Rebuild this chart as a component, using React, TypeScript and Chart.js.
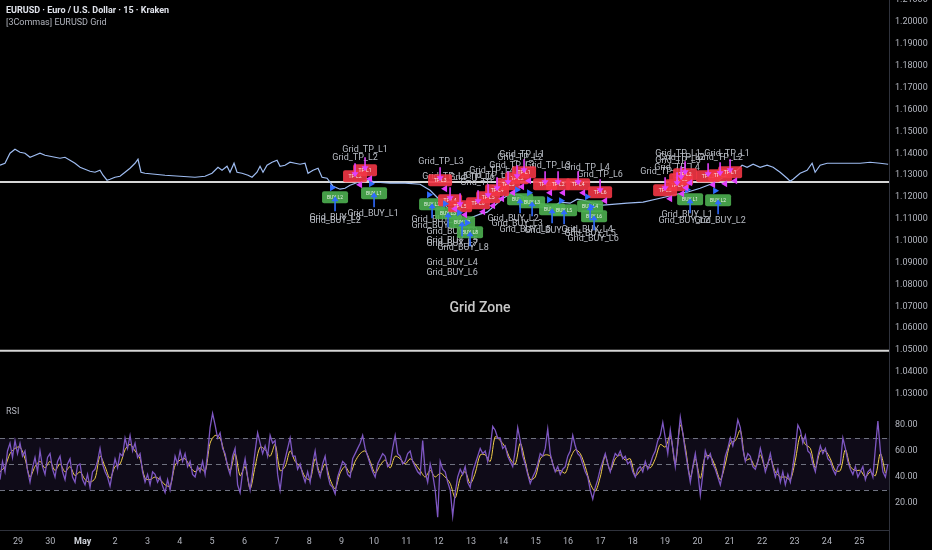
import React, { useEffect, useRef } from "react";
import { Chart, registerables } from "chart.js";

Chart.register(...registerables);

const FONT = "Roboto, 'Liberation Sans', sans-serif";

// ---------- shared time axis (days since Apr 29 00:00) ----------
const DAY_LABELS = ["29", "30", "May", "2", "3", "4", "5", "6", "7", "8", "9", "10", "11", "12", "13", "14", "15", "16", "17", "18", "19", "20", "21", "22", "23", "24", "25"];
const X_MIN = -0.556;
const X_MAX = 26.92;

// ---------- price pane ----------
const PRICE_TICKS = [1.03, 1.04, 1.05, 1.06, 1.07, 1.08, 1.09, 1.1, 1.11, 1.12, 1.13, 1.14, 1.15, 1.16, 1.17, 1.18, 1.19, 1.2, 1.21];
const PRICE_MIN = 1.02716;
const PRICE_MAX = 1.21009;

const PRICE_DAYS = [
  -0.556, -0.402, -0.247, -0.093, 0.062, 0.216, 0.371, 0.526, 0.68, 0.835,
  0.989, 1.144, 1.298, 1.453, 1.607, 1.762, 1.917, 2.071, 2.226, 2.38,
  2.535, 2.628, 2.751, 2.844, 2.998, 3.153, 3.308, 3.462, 3.617, 3.709,
  3.802, 3.926, 4.235, 4.544, 5.008, 5.471, 5.781, 5.997, 6.182, 6.306,
  6.461, 6.553, 6.677, 6.77, 6.924, 7.11, 7.233, 7.388, 7.481, 7.573,
  7.697, 7.852, 8.006, 8.099, 8.253, 8.408, 8.563, 8.717, 8.872, 8.964,
  9.119, 9.274, 9.397, 9.552, 9.737, 9.954, 10.108, 10.263, 10.51, 10.788,
  11.097, 11.499, 11.963, 12.427, 12.736, 13.045, 13.292, 13.509, 13.663, 13.849,
  14.034, 14.281, 14.498, 14.745, 14.992, 15.209, 15.518, 15.765, 16.043, 16.291,
  16.538, 16.754, 17.063, 17.28, 17.465, 17.774, 18.083, 18.454, 18.825, 19.32,
  19.845, 20.247, 20.68, 21.082, 21.484, 21.917, 22.226, 22.38, 22.535, 22.72,
  22.937, 23.153, 23.338, 23.555, 23.771, 23.864, 23.957, 24.173, 24.389, 24.544,
  24.637, 24.791, 25.008, 25.502, 26.028, 26.337, 26.646, 26.893,
];
const PRICE_VALUES = [
  1.13452, 1.13543, 1.14, 1.14183, 1.14046, 1.14, 1.13817, 1.13909, 1.14, 1.13909,
  1.13863, 1.13817, 1.13772, 1.13817, 1.1368, 1.13543, 1.1336, 1.13269, 1.13178, 1.13132,
  1.13223, 1.12995, 1.12767, 1.12812, 1.12904, 1.12949, 1.13132, 1.13315, 1.13543, 1.13726,
  1.13132, 1.13086, 1.13041, 1.12995, 1.12949, 1.12904, 1.12949, 1.13086, 1.1336, 1.13223,
  1.13406, 1.13132, 1.13543, 1.13132, 1.13086, 1.12995, 1.12904, 1.13132, 1.13406, 1.13132,
  1.13452, 1.13589, 1.1368, 1.13406, 1.13452, 1.13589, 1.13543, 1.13498, 1.13543, 1.13086,
  1.13223, 1.13315, 1.12904, 1.12858, 1.12493, 1.12356, 1.12401, 1.12538, 1.12675, 1.12767,
  1.12675, 1.1263, 1.1263, 1.12584, 1.1231, 1.11853, 1.11488, 1.11122, 1.10848, 1.1094,
  1.11077, 1.11214, 1.11305, 1.11625, 1.11944, 1.12127, 1.12082, 1.11899, 1.11762, 1.11625,
  1.11533, 1.11762, 1.11716, 1.11899, 1.11853, 1.11716, 1.11625, 1.1167, 1.11716, 1.11762,
  1.11944, 1.12082, 1.12219, 1.12401, 1.1263, 1.12995, 1.13223, 1.13452, 1.1336, 1.13498,
  1.1336, 1.13452, 1.1336, 1.13132, 1.12858, 1.12721, 1.12812, 1.13086, 1.13223, 1.13543,
  1.13132, 1.13452, 1.13543, 1.13543, 1.13543, 1.13589, 1.13543, 1.13498,
];

const GRID_UPPER = 1.1268;
const GRID_LOWER = 1.0497;
const GRID_ZONE_TEXT = "Grid Zone";
const GRID_ZONE_DAY = 14.28;
const GRID_ZONE_PRICE = 1.0692;

const TITLE_TEXT = "EURUSD · Euro / U.S. Dollar · 15 · Kraken";
const STUDY_TEXT = "[3Commas] EURUSD Grid";

// take-profit label boxes: [day, price, level]
const TP_BOXES = [
  [10.417, 1.12949, 2], [10.726, 1.13223, 1], [13.045, 1.12767, 3], [13.354, 1.11853, 4],
  [13.663, 1.11579, 5], [14.219, 1.11716, 6], [14.529, 1.1199, 5], [14.807, 1.1231, 4],
  [15.147, 1.12584, 3], [15.425, 1.12858, 2], [15.641, 1.13132, 1], [16.291, 1.12584, 3],
  [16.692, 1.12584, 2], [17.311, 1.12584, 4], [17.991, 1.12219, 6], [20.0, 1.1231, 5],
  [20.371, 1.12538, 4], [20.495, 1.12812, 3], [20.618, 1.13041, 2], [21.329, 1.12949, 3],
  [21.7, 1.12995, 2], [22.009, 1.13132, 1],
];
// buy label boxes: [day, price, level]
const BUY_BOXES = [
  [9.799, 1.1199, 2], [11.005, 1.12173, 1], [12.798, 1.1167, 2], [13.292, 1.11259, 3],
  [13.725, 1.10848, 7], [13.972, 1.10391, 8], [15.518, 1.11899, 2], [15.889, 1.11762, 3],
  [16.507, 1.11442, 4], [16.878, 1.11396, 5], [17.682, 1.11579, 4], [17.805, 1.11122, 6],
  [20.773, 1.11899, 1], [21.638, 1.11853, 2],
];
// text labels: [day, price, text]
const TP_LABELS = [
  [10.726, 1.14183, "Grid_TP_L1"], [10.417, 1.13817, "Grid_TP_L2"], [13.076, 1.13589, "Grid_TP_L3"],
  [13.199, 1.12904, "Grid_TP_L5"], [14.034, 1.12858, "Grid_TP_L6"], [14.652, 1.13223, "Grid_TP_L4"],
  [14.529, 1.12949, "Grid_TP_L5"], [14.374, 1.1263, "Grid_TP_L6"], [15.518, 1.13817, "Grid_TP_L2"],
  [15.58, 1.13954, "Grid_TP_L1"], [15.27, 1.13406, "Grid_TP_L3"], [16.383, 1.13406, "Grid_TP_L3"],
  [17.589, 1.1336, "Grid_TP_L4"], [17.991, 1.12995, "Grid_TP_L6"], [19.938, 1.13132, "Grid_TP_L5"],
  [20.371, 1.1336, "Grid_TP_L4"], [20.402, 1.13635, "Grid_TP_L3"], [20.526, 1.13817, "Grid_TP_L2"],
  [20.402, 1.14, "Grid_TP_L1"], [21.7, 1.13817, "Grid_TP_L2"], [21.917, 1.14, "Grid_TP_L1"],
];
const BUY_LABELS = [
  [9.799, 1.11031, "Grid_BUY_L3"], [9.799, 1.10894, "Grid_BUY_L2"], [10.974, 1.11214, "Grid_BUY_L1"],
  [12.952, 1.1094, "Grid_BUY_L2"], [12.952, 1.10665, "Grid_BUY_L7"], [13.416, 1.10391, "Grid_BUY_L3"],
  [13.416, 1.0998, "Grid_BUY_L5"], [13.416, 1.09843, "Grid_BUY_L7"], [13.756, 1.0966, "Grid_BUY_L8"],
  [13.416, 1.08975, "Grid_BUY_L4"], [13.416, 1.08518, "Grid_BUY_L6"], [15.301, 1.10985, "Grid_BUY_L2"],
  [15.425, 1.10757, "Grid_BUY_L3"], [15.672, 1.10483, "Grid_BUY_L5"], [16.445, 1.10437, "Grid_BUY_L4"],
  [17.589, 1.10483, "Grid_BUY_L4"], [17.682, 1.103, "Grid_BUY_L5"], [17.774, 1.10072, "Grid_BUY_L6"],
  [20.68, 1.11168, "Grid_BUY_L1"], [20.587, 1.10894, "Grid_BUY_L2"], [21.7, 1.10894, "Grid_BUY_L2"],
];

// ---------- RSI pane ----------
const RSI_TICKS = [20, 40, 60, 80];
const RSI_LEVELS = [70, 50, 30];
const RSI_BAND = [30, 70];
const RSI_MIN = -0.77;
const RSI_MAX = 99.23;
const RSI_START_DAY = -0.556;
const RSI_STEP_DAYS = 0.0773;
const RSI_MA_STEP_DAYS = 0.1546;

const RSI_VALUES = [
  38, 52, 44, 60, 66, 55, 68, 58, 66, 56, 60, 45, 36, 47, 55, 44, 60, 48, 42, 55,
  58, 46, 40, 52, 56, 44, 38, 50, 54, 40, 36, 49, 50, 38, 34, 42, 32, 44, 46, 52,
  62, 50, 44, 40, 33, 44, 54, 47, 58, 56, 70, 62, 72, 60, 66, 55, 58, 44, 36, 42,
  34, 44, 42, 36, 40, 33, 28, 38, 30, 42, 56, 50, 60, 52, 58, 48, 52, 42, 40, 48,
  44, 52, 42, 58, 78, 89, 80, 70, 74, 62, 58, 48, 42, 56, 62, 34, 28, 44, 54, 40,
  30, 44, 60, 74, 66, 58, 64, 56, 72, 66, 68, 42, 30, 46, 54, 62, 70, 56, 56, 46,
  50, 42, 36, 44, 36, 50, 60, 46, 40, 50, 56, 42, 34, 32, 27, 40, 46, 52, 50, 42,
  40, 54, 58, 62, 66, 72, 62, 56, 50, 44, 40, 50, 54, 58, 56, 48, 50, 62, 72, 58,
  56, 50, 52, 58, 60, 52, 48, 44, 42, 68, 44, 36, 50, 42, 30, 9, 52, 46, 44, 36,
  30, 10, 28, 40, 46, 42, 48, 36, 32, 44, 50, 56, 62, 58, 60, 52, 62, 79, 76, 70,
  70, 62, 64, 56, 52, 48, 60, 78, 68, 56, 50, 42, 35, 40, 44, 50, 58, 56, 62, 77,
  58, 50, 44, 48, 42, 46, 48, 56, 60, 72, 64, 58, 56, 50, 44, 40, 30, 23, 32, 38,
  46, 52, 58, 50, 44, 52, 58, 56, 60, 54, 56, 50, 52, 44, 40, 46, 48, 44, 52, 46,
  50, 56, 60, 68, 72, 82, 70, 58, 76, 62, 48, 66, 86, 74, 60, 48, 36, 48, 58, 44,
  26, 42, 60, 54, 58, 50, 46, 40, 34, 44, 56, 62, 70, 64, 72, 84, 78, 62, 52, 58,
  56, 48, 46, 52, 62, 54, 44, 50, 58, 48, 40, 46, 36, 44, 34, 42, 36, 48, 62, 80,
  76, 66, 72, 60, 58, 50, 44, 56, 64, 58, 62, 54, 52, 46, 42, 48, 50, 70, 62, 52,
  46, 42, 48, 40, 44, 48, 38, 44, 46, 40, 62, 83, 60, 44, 40, 50,
];
const RSI_MA_VALUES = [
  44, 48, 58, 62, 63, 54, 40, 48, 52, 47,
  52, 45, 50, 44, 48, 41, 44, 38, 36, 39,
  56, 48, 39, 48, 50, 61, 65, 60, 54, 39,
  38, 40, 38, 34, 33, 49, 53, 54, 48, 44,
  47, 44, 66, 72, 70, 56, 45, 58, 41, 48,
  31, 48, 63, 61, 56, 65, 45, 48, 60, 52,
  48, 40, 38, 54, 43, 50, 38, 31, 43, 48,
  43, 52, 58, 60, 52, 43, 49, 53, 47, 56,
  54, 50, 54, 50, 45, 40, 45, 40, 43, 40,
  35, 24, 39, 44, 35, 43, 57, 57, 52, 71,
  68, 63, 54, 50, 66, 52, 38, 40, 54, 57,
  56, 45, 45, 43, 54, 61, 58, 48, 35, 29,
  40, 56, 45, 54, 57, 53, 54, 41, 45, 49,
  47, 54, 65, 63, 72, 50, 80, 63, 40, 54,
  39, 56, 56, 48, 38, 50, 66, 68, 76, 53,
  54, 48, 57, 47, 54, 44, 40, 40, 38, 53,
  72, 65, 62, 47, 60, 60, 54, 45, 45, 61,
  48, 45, 45, 40, 44, 41, 58, 43,
];

// ---------- colours ----------
const C_BG = "#000000";
const C_AXIS_TEXT = "#b2b5be";
const C_BORDER = "#2f323c";
const C_PRICE = "#9fbdf2";
const C_GRIDLINE = "#d6d6d6";
const C_TP_BOX = "rgba(242,54,69,0.9)";
const C_BUY_BOX = "rgba(76,175,80,0.9)";
const C_TP_ARROW = "#e040fb";
const C_BUY_ARROW = "#2f6bff";
const C_LABEL = "#b8bcc4";
const C_RSI = "#7e57c2";
const C_RSI_MA = "#f2cf4a";

function rrect(ctx: CanvasRenderingContext2D, x: number, y: number, w: number, h: number, r: number) {
  ctx.beginPath();
  ctx.moveTo(x + r, y);
  ctx.lineTo(x + w - r, y);
  ctx.quadraticCurveTo(x + w, y, x + w, y + r);
  ctx.lineTo(x + w, y + h - r);
  ctx.quadraticCurveTo(x + w, y + h, x + w - r, y + h);
  ctx.lineTo(x + r, y + h);
  ctx.quadraticCurveTo(x, y + h, x, y + h - r);
  ctx.lineTo(x, y + r);
  ctx.quadraticCurveTo(x, y, x + r, y);
  ctx.closePath();
}

function drawBox(ctx: CanvasRenderingContext2D, cx: number, cy: number, w: number, h: number, fill: string, text: string) {
  rrect(ctx, cx - w / 2, cy - h / 2, w, h, 2);
  ctx.fillStyle = fill;
  ctx.fill();
  ctx.fillStyle = "rgba(255,255,255,0.85)";
  ctx.font = `5px ${FONT}`;
  ctx.textAlign = "center";
  ctx.textBaseline = "middle";
  ctx.fillText(text, cx, cy + 0.5);
}

function drawArrow(ctx: CanvasRenderingContext2D, cx: number, from: number, tip: number, color: string) {
  const dir = tip > from ? 1 : -1;
  ctx.strokeStyle = color;
  ctx.fillStyle = color;
  ctx.lineWidth = 1.6;
  ctx.beginPath();
  ctx.moveTo(cx, from);
  ctx.lineTo(cx, tip - dir * 4);
  ctx.stroke();
  ctx.beginPath();
  ctx.moveTo(cx - 3.5, tip - dir * 5);
  ctx.lineTo(cx + 3.5, tip - dir * 5);
  ctx.lineTo(cx, tip);
  ctx.closePath();
  ctx.fill();
}

const markersPlugin = {
  id: "gridMarkers",
  afterDatasetsDraw(chart: any) {
    const { ctx } = chart;
    const xs = chart.scales.x;
    const ys = chart.scales.y;
    ctx.save();

    // Grid Zone caption
    ctx.fillStyle = "#c9c9c9";
    ctx.font = `500 14px ${FONT}`;
    ctx.textAlign = "center";
    ctx.textBaseline = "middle";
    ctx.fillText(GRID_ZONE_TEXT, xs.getPixelForValue(GRID_ZONE_DAY), ys.getPixelForValue(GRID_ZONE_PRICE));

    // text labels
    ctx.fillStyle = C_LABEL;
    ctx.font = `9px ${FONT}`;
    [...TP_LABELS, ...BUY_LABELS].forEach(([d, p, t]: any) => {
      ctx.fillText(t, xs.getPixelForValue(d), ys.getPixelForValue(p));
    });

    // buy boxes
    BUY_BOXES.forEach(([d, p, l]: any) => {
      const cx = xs.getPixelForValue(d);
      const cy = ys.getPixelForValue(p);
      drawBox(ctx, cx, cy, 26, 12, C_BUY_BOX, "BUY L" + l);
    });
    // tp boxes
    TP_BOXES.forEach(([d, p, l]: any) => {
      const cx = xs.getPixelForValue(d);
      const cy = ys.getPixelForValue(p);
      drawBox(ctx, cx, cy, 24, 12, C_TP_BOX, "TP L" + l);
    });
    // arrows and triangles
    BUY_BOXES.forEach(([d, p]: any) => {
      const cx = xs.getPixelForValue(d);
      const cy = ys.getPixelForValue(p);
      drawArrow(ctx, cx, cy + 14, cy - 1, C_BUY_ARROW);
      ctx.fillStyle = C_BUY_ARROW;
      ctx.beginPath();
      ctx.moveTo(cx - 5, cy - 13);
      ctx.lineTo(cx - 5, cy - 6);
      ctx.lineTo(cx + 1, cy - 9.5);
      ctx.closePath();
      ctx.fill();
    });
    TP_BOXES.forEach(([d, p]: any) => {
      const cx = xs.getPixelForValue(d);
      const cy = ys.getPixelForValue(p);
      drawArrow(ctx, cx, cy - 13, cy + 1, C_TP_ARROW);
      ctx.fillStyle = C_TP_ARROW;
      ctx.beginPath();
      ctx.moveTo(cx + 7, cy + 5);
      ctx.lineTo(cx + 7, cy + 12);
      ctx.lineTo(cx + 1, cy + 8.5);
      ctx.closePath();
      ctx.fill();
    });
    ctx.restore();
  },
  afterDraw(chart: any) {
    const { ctx } = chart;
    ctx.save();
    ctx.textAlign = "left";
    ctx.textBaseline = "middle";
    ctx.fillStyle = "#e0e3eb";
    ctx.font = `bold 9px ${FONT}`;
    ctx.fillText(TITLE_TEXT, 6, 11);
    ctx.fillStyle = C_AXIS_TEXT;
    ctx.font = `9px ${FONT}`;
    ctx.fillText(STUDY_TEXT, 6, 23);
    ctx.restore();
  },
};

const rsiPlugin = {
  id: "rsiBands",
  beforeDatasetsDraw(chart: any) {
    const { ctx, chartArea } = chart;
    const ys = chart.scales.y;
    ctx.save();
    const yTop = ys.getPixelForValue(RSI_BAND[1]);
    const yBot = ys.getPixelForValue(RSI_BAND[0]);
    ctx.fillStyle = "rgba(126,87,194,0.12)";
    ctx.fillRect(chartArea.left, yTop, chartArea.right - chartArea.left, yBot - yTop);
    ctx.strokeStyle = "#6f7280";
    ctx.lineWidth = 1;
    ctx.setLineDash([5, 4]);
    RSI_LEVELS.forEach((v) => {
      const y = Math.round(ys.getPixelForValue(v)) + 0.5;
      ctx.beginPath();
      ctx.moveTo(chartArea.left, y);
      ctx.lineTo(chartArea.right, y);
      ctx.stroke();
    });
    ctx.restore();
  },
  afterDraw(chart: any) {
    const { ctx, chartArea } = chart;
    ctx.save();
    ctx.fillStyle = C_AXIS_TEXT;
    ctx.font = `9px ${FONT}`;
    ctx.textAlign = "left";
    ctx.textBaseline = "middle";
    ctx.fillText("RSI", 6, 12);
    ctx.strokeStyle = C_BORDER;
    ctx.lineWidth = 1;
    ctx.beginPath();
    ctx.moveTo(Math.round(chartArea.right) + 0.5, chartArea.bottom);
    ctx.lineTo(Math.round(chartArea.right) + 0.5, chart.height);
    ctx.stroke();
    ctx.restore();
  },
};

function noPad(s: any) {
  s.paddingTop = 0;
  s.paddingBottom = 0;
  s.paddingLeft = 0;
  s.paddingRight = 0;
}

export default function App() {
  const priceRef = useRef<HTMLCanvasElement>(null);
  const rsiRef = useRef<HTMLCanvasElement>(null);

  useEffect(() => {
    Chart.defaults.font.family = FONT;

    const priceData = PRICE_DAYS.map((d, i) => ({ x: d, y: PRICE_VALUES[i] }));
    const priceChart = new Chart(priceRef.current as HTMLCanvasElement, {
      type: "line",
      data: {
        datasets: [
          { data: priceData, borderColor: C_PRICE, borderWidth: 1.2, pointRadius: 0, tension: 0 },
          { data: [{ x: X_MIN, y: GRID_UPPER }, { x: X_MAX, y: GRID_UPPER }], borderColor: C_GRIDLINE, borderWidth: 2, pointRadius: 0 },
          { data: [{ x: X_MIN, y: GRID_LOWER }, { x: X_MAX, y: GRID_LOWER }], borderColor: C_GRIDLINE, borderWidth: 2, pointRadius: 0 },
        ],
      },
      options: {
        animation: false,
        responsive: false,
        maintainAspectRatio: false,
        layout: { padding: 0 },
        events: [],
        plugins: { legend: { display: false }, tooltip: { enabled: false } },
        scales: {
          x: { type: "linear", min: X_MIN, max: X_MAX, display: false },
          y: {
            position: "right",
            min: PRICE_MIN,
            max: PRICE_MAX,
            grid: { display: false, drawTicks: false },
            border: { display: true, color: C_BORDER },
            ticks: {
              color: C_AXIS_TEXT,
              font: { family: FONT, size: 9 },
              padding: 6,
              autoSkip: false,
              callback: (v: any) => Number(v).toFixed(5),
            },
            afterBuildTicks: (s: any) => {
              s.ticks = PRICE_TICKS.map((v) => ({ value: v }));
            },
            afterFit: (s: any) => {
              s.width = 43;
              noPad(s);
            },
          },
        },
      } as any,
      plugins: [markersPlugin],
    });

    const rsiData = RSI_VALUES.map((v, i) => ({ x: RSI_START_DAY + i * RSI_STEP_DAYS, y: v }));
    const rsiMaData = RSI_MA_VALUES.map((v, i) => ({ x: RSI_START_DAY + i * RSI_MA_STEP_DAYS, y: v }));
    const rsiChart = new Chart(rsiRef.current as HTMLCanvasElement, {
      type: "line",
      data: {
        datasets: [
          { data: rsiData, borderColor: C_RSI, borderWidth: 1.3, pointRadius: 0, tension: 0 },
          { data: rsiMaData, borderColor: C_RSI_MA, borderWidth: 1, pointRadius: 0, tension: 0.3 },
        ],
      },
      options: {
        animation: false,
        responsive: false,
        maintainAspectRatio: false,
        layout: { padding: 0 },
        events: [],
        plugins: { legend: { display: false }, tooltip: { enabled: false } },
        scales: {
          x: {
            type: "linear",
            min: X_MIN,
            max: X_MAX,
            position: "bottom",
            grid: { display: false, drawTicks: false },
            border: { display: true, color: C_BORDER },
            ticks: {
              autoSkip: false,
              maxRotation: 0,
              padding: 6,
              color: (c: any) => (c.tick && c.tick.value === 2 ? "#d1d4dc" : C_AXIS_TEXT),
              font: (c: any) => ({ family: FONT, size: 9, weight: c.tick && c.tick.value === 2 ? "bold" : "normal" }),
              callback: (v: any) => DAY_LABELS[Math.round(Number(v))] ?? "",
            },
            afterBuildTicks: (s: any) => {
              s.ticks = DAY_LABELS.map((_, i) => ({ value: i }));
            },
            afterFit: (s: any) => {
              s.height = 20;
              noPad(s);
            },
          },
          y: {
            position: "right",
            min: RSI_MIN,
            max: RSI_MAX,
            grid: { display: false, drawTicks: false },
            border: { display: true, color: C_BORDER },
            ticks: {
              color: C_AXIS_TEXT,
              font: { family: FONT, size: 9 },
              padding: 6,
              autoSkip: false,
              callback: (v: any) => Number(v).toFixed(2),
            },
            afterBuildTicks: (s: any) => {
              s.ticks = RSI_TICKS.map((v) => ({ value: v }));
            },
            afterFit: (s: any) => {
              s.width = 43;
              noPad(s);
            },
          },
        },
      } as any,
      plugins: [rsiPlugin],
    });

    return () => {
      priceChart.destroy();
      rsiChart.destroy();
    };
  }, []);

  return (
    <div style={{ position: "fixed", left: 0, top: 0, width: 932, height: 550, background: C_BG, overflow: "hidden" }}>
      <canvas ref={priceRef} width={932} height={400} style={{ position: "absolute", left: 0, top: 0, width: 932, height: 400 }} />
      <canvas ref={rsiRef} width={932} height={150} style={{ position: "absolute", left: 0, top: 400, width: 932, height: 150 }} />
    </div>
  );
}
